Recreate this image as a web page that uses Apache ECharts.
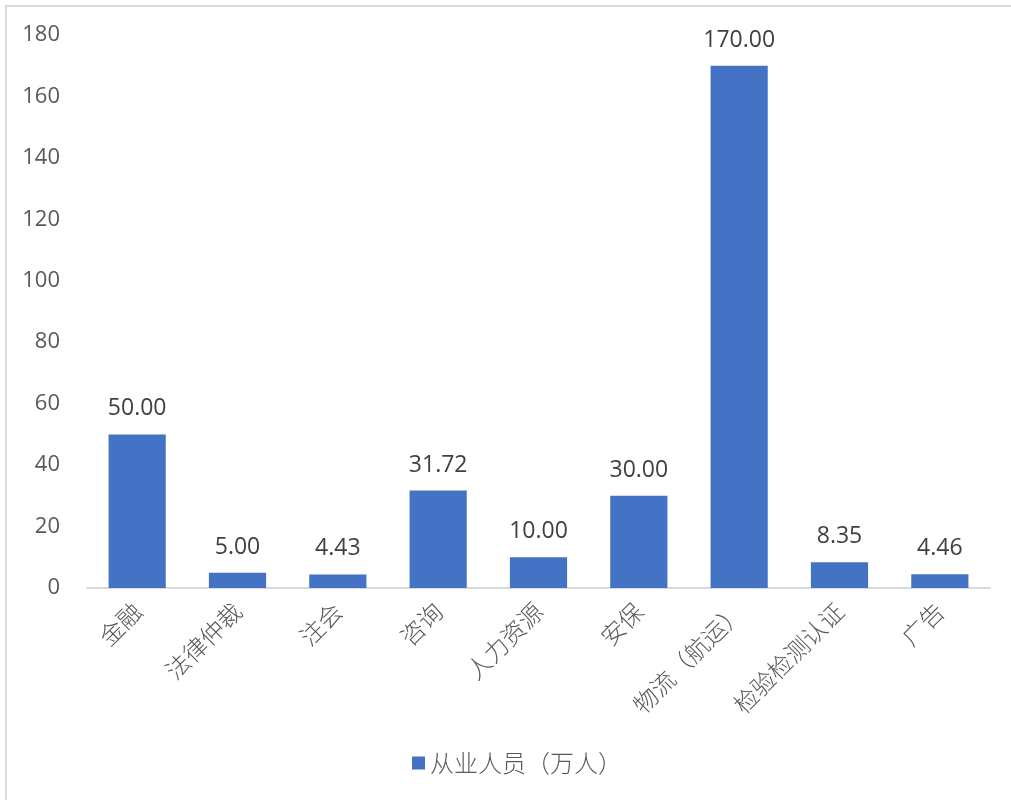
<!DOCTYPE html>
<html>
<head>
<meta charset="utf-8">
<script src="https://cdn.jsdelivr.net/npm/echarts@6/dist/echarts.min.js"></script>
<style>
html,body{margin:0;padding:0;background:#fff;}
#c{width:1011px;height:800px;}
#bt{position:absolute;left:5px;top:5px;width:1006px;height:2px;background:#d9d9d9;}
#bl{position:absolute;left:5px;top:5px;width:2px;height:795px;background:#d9d9d9;}
</style>
</head>
<body>
<div id="c"></div>
<div id="bt"></div>
<div id="bl"></div>
<script>
const categories = ['金融','法律仲裁','注会','咨询','人力资源','安保','物流（航运）','检验检测认证','广告'];
const values = [50.00, 5.00, 4.43, 31.72, 10.00, 30.00, 170.00, 8.35, 4.46];
const seriesName = '从业人员（万人）';
const yTicks = {min: 0, max: 180, interval: 20};

const chart = echarts.init(document.getElementById('c'));
chart.setOption({
  animation: false,
  grid: {left: 87, right: 21, top: 35, bottom: 212, containLabel: false},
  legend: {
    bottom: 20, left: 407,
    icon: 'rect', itemWidth: 13, itemHeight: 13, itemGap: 9,
    textStyle: {fontSize: 24, color: '#595959', fontFamily: 'Noto Sans CJK SC', fontWeight: 300},
    data: [seriesName]
  },
  xAxis: {
    type: 'category',
    data: categories,
    axisLine: {lineStyle: {color: '#d9d9d9', width: 2}},
    axisTick: {show: false},
    axisLabel: {
      rotate: 45, interval: 0, margin: 19,
      fontSize: 24, color: '#595959',
      fontFamily: 'Noto Sans CJK SC', fontWeight: 300
    }
  },
  yAxis: {
    type: 'value',
    min: yTicks.min, max: yTicks.max, interval: yTicks.interval,
    axisLine: {show: false},
    axisTick: {show: false},
    splitLine: {show: false},
    axisLabel: {fontSize: 22, color: '#595959', margin: 27, fontFamily: 'Open Sans'}
  },
  series: [{
    name: seriesName,
    type: 'bar',
    data: values,
    barWidth: '57%',
    itemStyle: {color: '#4472c4'},
    label: {
      show: true, position: 'top', distance: 14,
      fontSize: 23, color: '#404040', fontFamily: 'Open Sans',
      formatter: p => p.value.toFixed(2)
    }
  }]
});
</script>
</body>
</html>
